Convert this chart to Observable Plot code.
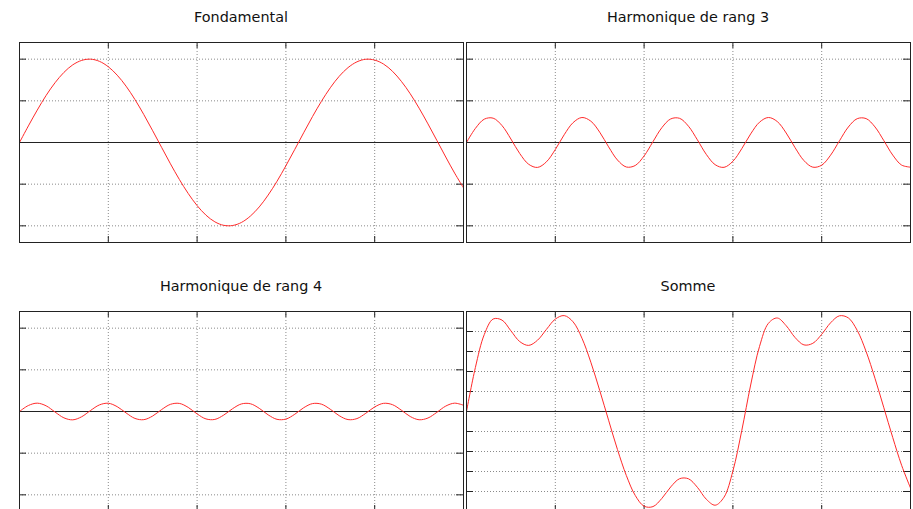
<!DOCTYPE html>
<html><head><meta charset="utf-8">
<script src="https://cdn.jsdelivr.net/npm/d3@7"></script>
<script src="https://cdn.jsdelivr.net/npm/@observablehq/plot@0.6"></script>
<style>
html,body{margin:0;padding:0;background:#fff;width:913px;height:509px;overflow:hidden;position:relative;}
.panel{position:absolute;}
.title{position:absolute;font-family:"DejaVu Sans";font-size:14.4px;line-height:14px;color:#111;text-align:center;white-space:nowrap;}
</style></head><body>
<script>
// Titles
const titles = ["Fondamental", "Harmonique de rang 3", "Harmonique de rang 4", "Somme"];
// sample positions (x, 5 divisions)
const t = [0,0.1,0.2,0.3,0.4,0.5,0.6,0.7,0.8,0.9,1,1.1,1.2,1.3,1.4,1.5,1.6,1.7,1.8,1.9,2,2.1,2.2,2.3,2.4,2.5,2.6,2.7,2.8,2.9,3,3.1,3.2,3.3,3.4,3.5,3.6,3.7,3.8,3.9,4,4.1,4.2,4.3,4.4,4.5,4.6,4.7,4.8,4.9,5];
const fondamental = [0,0.199,0.389,0.565,0.717,0.841,0.932,0.985,1.000,0.974,0.909,0.808,0.676,0.516,0.335,0.141,-0.058,-0.256,-0.443,-0.612,-0.757,-0.872,-0.952,-0.994,-0.996,-0.959,-0.883,-0.773,-0.631,-0.465,-0.279,-0.083,0.117,0.312,0.494,0.657,0.794,0.899,0.968,0.999,0.989,0.941,0.855,0.734,0.585,0.412,0.223,0.025,-0.174,-0.367,-0.544];
const rang3 = [0,0.169,0.280,0.292,0.203,0.042,-0.133,-0.261,-0.299,-0.232,-0.084,0.093,0.238,0.300,0.256,0.124,-0.052,-0.210,-0.294,-0.276,-0.161,0.010,0.178,0.283,0.290,0.195,0.032,-0.142,-0.266,-0.298,-0.225,-0.074,0.103,0.244,0.300,0.251,0.114,-0.062,-0.217,-0.296,-0.272,-0.152,0.020,0.186,0.286,0.287,0.187,0.022,-0.151,-0.271,-0.296];
const rang4 = [0,0.072,0.100,0.068,-0.006,-0.076,-0.100,-0.063,0.012,0.079,0.099,0.058,-0.017,-0.083,-0.098,-0.054,0.023,0.086,0.097,0.049,-0.029,-0.089,-0.095,-0.043,0.034,0.091,0.093,0.038,-0.040,-0.094,-0.091,-0.033,0.045,0.095,0.088,0.027,-0.050,-0.097,-0.085,-0.021,0.055,0.098,0.082,0.016,-0.060,-0.099,-0.078,-0.010,0.065,0.100,0.075];
const somme = [0,0.440,0.769,0.925,0.914,0.807,0.699,0.661,0.713,0.821,0.924,0.959,0.897,0.733,0.493,0.211,-0.087,-0.380,-0.640,-0.839,-0.947,-0.951,-0.869,-0.754,-0.672,-0.673,-0.758,-0.877,-0.937,-0.857,-0.595,-0.190,0.265,0.651,0.882,0.935,0.858,0.740,0.666,0.682,0.772,0.887,0.957,0.936,0.811,0.600,0.332,0.037,-0.260,-0.538,-0.765];
// axis ticks
const xTicks = [1, 2, 3, 4];
const yTicksA = [-1, -0.5, 0.5, 1];
const yTicksB = [-0.8, -0.6, -0.4, -0.2, 0.2, 0.4, 0.6, 0.8];
const xDomain = [0, 5];
const yDomainA = [-1.2, 1.2];
const yDomainB = [-1, 1];

const panels = [
  {title: titles[0], ys: fondamental, yDomain: yDomainA, yTicks: yTicksA, left: 18, top: 41},
  {title: titles[1], ys: rang3, yDomain: yDomainA, yTicks: yTicksA, left: 465, top: 41},
  {title: titles[2], ys: rang4, yDomain: yDomainA, yTicks: yTicksA, left: 18, top: 310},
  {title: titles[3], ys: somme, yDomain: yDomainB, yTicks: yTicksB, left: 465, top: 310}
];

const FW = 444, FH = 200;
for (const p of panels) {
  const data = t.map((x, i) => ({x, y: p.ys[i]}));
  const chart = Plot.plot({
    width: FW + 2, height: FH + 2,
    marginLeft: 1, marginRight: 1, marginTop: 1, marginBottom: 1,
    x: {domain: xDomain, axis: null},
    y: {domain: p.yDomain, axis: null},
    marks: [
      Plot.ruleX(xTicks, {stroke: "#8a8a8a", strokeDasharray: "1,2"}),
      Plot.ruleY(p.yTicks, {stroke: "#8a8a8a", strokeDasharray: "1,2"}),
      Plot.ruleY([0], {stroke: "#222"}),
      Plot.ruleX(xTicks, {stroke: "#222", insetBottom: FH - 6}),
      Plot.ruleX(xTicks, {stroke: "#222", insetTop: FH - 6}),
      Plot.ruleY(p.yTicks, {stroke: "#222", insetRight: FW - 7}),
      Plot.ruleY(p.yTicks, {stroke: "#222", insetLeft: FW - 7}),
      Plot.line(data, {x: "x", y: "y", stroke: "#ff2a2a", strokeWidth: 1, curve: "catmull-rom"}),
      Plot.frame({stroke: "#222"})
    ]
  });
  chart.classList.add("panel");
  chart.style.left = p.left + "px";
  chart.style.top = p.top + "px";
  document.body.appendChild(chart);
  const tt = document.createElement("div");
  tt.className = "title";
  tt.textContent = p.title;
  tt.style.left = (p.left + 1) + "px";
  tt.style.width = FW + "px";
  tt.style.top = (p.top - 31) + "px";
  document.body.appendChild(tt);
}
</script>
</body></html>
